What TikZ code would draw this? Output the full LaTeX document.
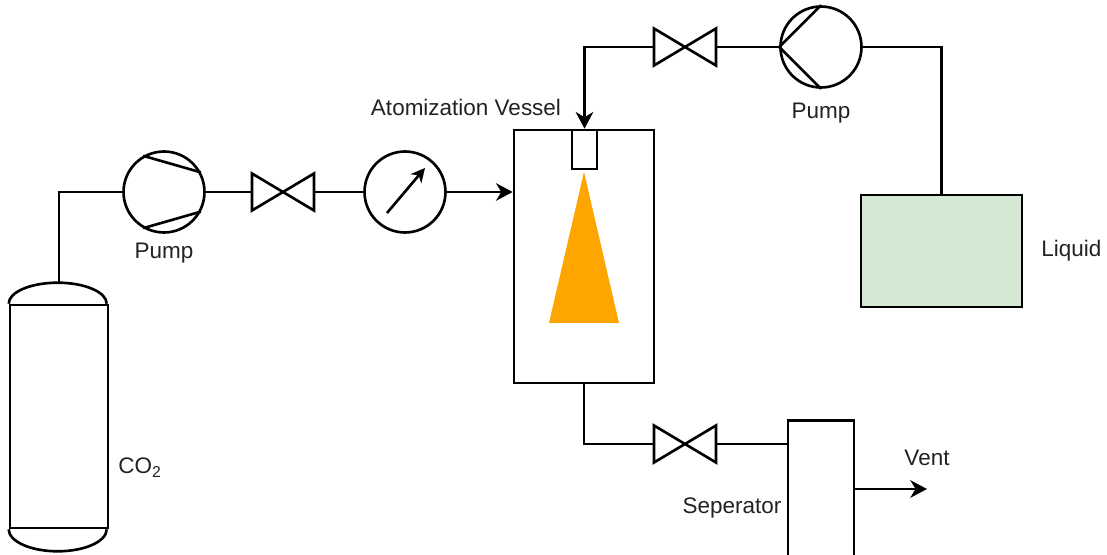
\documentclass[tikz,border=0pt]{standalone}
\usepackage{fontspec}
\setmainfont{Liberation Sans}
\usetikzlibrary{calc,arrows.meta}
\definecolor{liquidgreen}{HTML}{D5E8D4}
\definecolor{sprayorange}{HTML}{FFA500}
\definecolor{labelgrey}{HTML}{222222}
\tikzset{
  line/.style={line width=1.5pt,line join=miter},
  flow/.style={line,-{Stealth[length=9.5pt,width=10pt,inset=3pt]}},
  rotor/.style={draw,line,circle,minimum size=1.62cm,inner sep=0pt},
  valve/.style={minimum width=1.24cm,minimum height=0.74cm,inner sep=0pt,outer sep=0pt},
  box/.style={draw,line,rectangle,inner sep=0pt},
  label/.style={font=\fontsize{12.8pt}{15pt}\selectfont,text=labelgrey,inner sep=0pt}
}
\newcommand{\valvecross}[1]{\draw[line] (#1.south west) -- (#1.north east) -- (#1.south east) -- (#1.north west) -- cycle;}

\begin{document}
\begin{tikzpicture}[x=0.02cm,y=0.02cm]
        % coordinates are reference pixels, y measured up from the bottom edge
        \useasboundingbox (0,0) rectangle (1107,555);

        % CO2 tank
        \node[box,minimum width=1.96cm,minimum height=4.46cm] (tank) at (59,138.5) {};
        \draw[line] (tank.north west) arc (180:0:49 and 21);
        \draw[line] (tank.south west) arc (180:360:49 and 22);
        \coordinate (tanktop) at (59,271);

        % feed line
        \node[rotor] (pumpa) at (164,363) {};
        \draw[line] (pumpa.120) -- (pumpa.28);
        \draw[line] (pumpa.-120) -- (pumpa.-28);
        \node[valve] (valvea) at (283,363) {};
        \valvecross{valvea}
        \node[rotor] (gauge) at (405,363) {};
        \draw[line,-{Stealth[length=8pt,width=8pt,inset=2.5pt]}] ($(gauge)+(-18,-21)$) -- ($(gauge)+(20,24)$);

        % vessel
        \node[box,minimum width=2.8cm,minimum height=5.06cm] (vessel) at (584,298.5) {};
        \node[box,minimum width=0.5cm,minimum height=0.78cm] (nozzle) at (584.5,405.5) {};
        \fill[sprayorange] (584,383) -- (619,232) -- (549,232) -- cycle;

        % liquid line
        \node[valve] (valveb) at (685,508) {};
        \valvecross{valveb}
        \node[rotor] (pumpb) at (821,508) {};
        \draw[line] (pumpb.180) -- (pumpb.90);
        \draw[line] (pumpb.180) -- (pumpb.-90);
        \node[box,fill=liquidgreen,minimum width=3.22cm,minimum height=2.24cm] (liquid) at (941.5,304) {};

        % outlet
        \node[valve] (valvec) at (685,111) {};
        \valvecross{valvec}
        \node[box,minimum width=1.32cm,minimum height=2.78cm] (sep) at (821,65) {};
        \coordinate (ventend) at (927,66);

        \draw[line] (tanktop) |- (pumpa.west);
        \draw[line] (pumpa.east) -- (valvea.west);
        \draw[line] (valvea.east) -- (gauge.west);
        \draw[flow] (gauge.east) -- (gauge.east -| vessel.west);
        \draw[flow] (valveb.west) -| (nozzle.north);
        \draw[line] (pumpb.west) -- (valveb.east);
        \draw[line] (pumpb.east) -| (liquid.north);
        \draw[line] (vessel.south) |- (valvec.west);
        \draw[line] (valvec.east) -- (valvec.east -| sep.west);
        \draw[flow] (ventend -| sep.east) -- (ventend);

        \node[label] (pumpatext) at (164,301.5) {Pump};
        \node[label] (pumpbtext) at (821,441.5) {Pump};
        \node[label] (vesseltext) at (466,448) {Atomization Vessel};
        \node[label] (liquidtext) at (1071.5,304.5) {Liquid};
        \node[label] (co2text) at (140,87) {CO\textsubscript{2}};
        \node[label] (venttext) at (927,97) {Vent};
        \node[label] (septext) at (732,47.5) {Seperator};

    \end{tikzpicture}
\end{document}
